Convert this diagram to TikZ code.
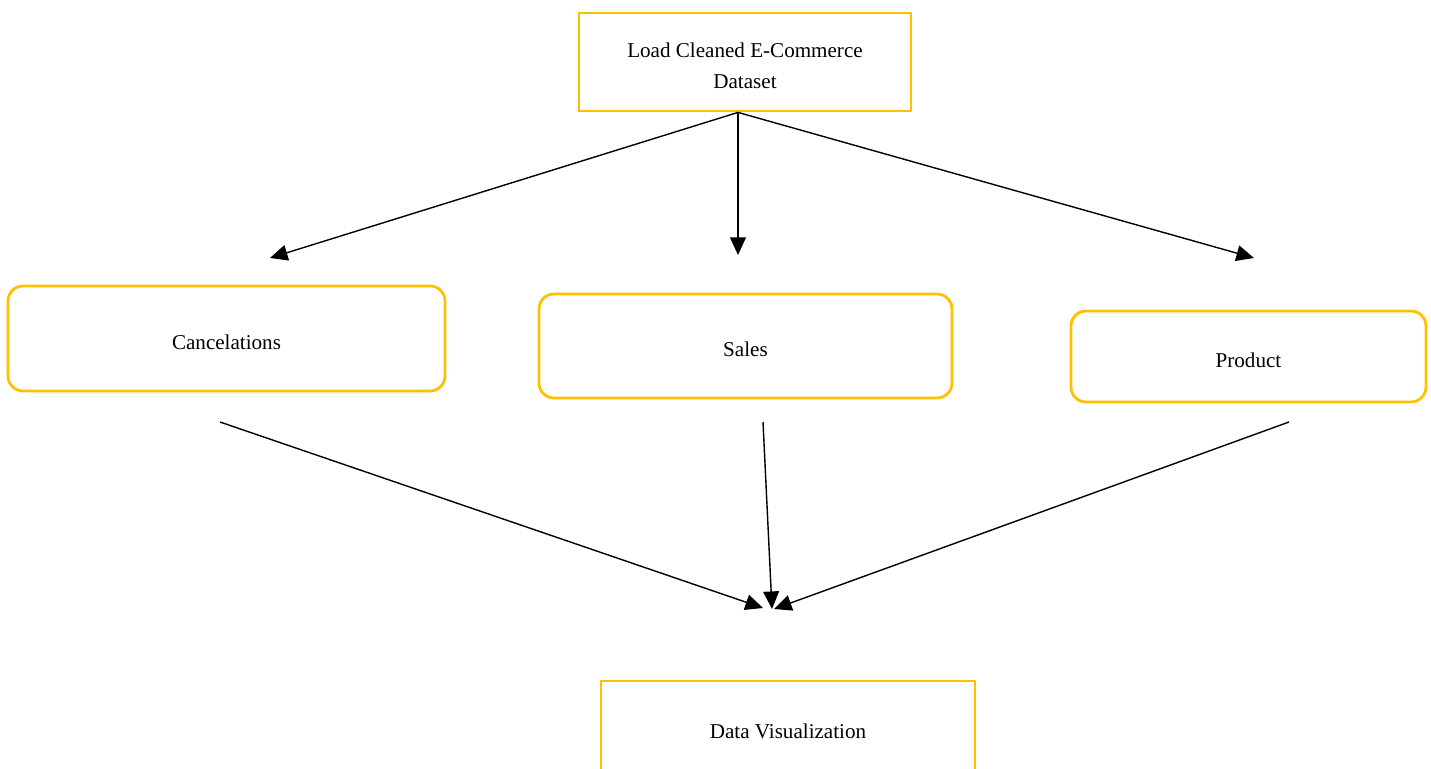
\documentclass[tikz,border=0pt]{standalone}
\usepackage{fontspec}
\setmainfont{Liberation Serif}
\usepackage{tikz}
\usetikzlibrary{positioning,arrows.meta}
\definecolor{boxgold}{HTML}{FFC000}

\begin{document}
\begin{tikzpicture}[
    font=\fontsize{12}{17.6}\selectfont,
    flatbox/.style={draw=boxgold,line width=1.6pt,inner sep=0pt,align=center},
    roundbox/.style={flatbox,rounded corners=0.3cm,text height=12pt,text depth=0pt},
    link/.style={line width=0.8pt,-{Triangle[length=10pt,width=9pt]}}
  ]
  \useasboundingbox (0,0) rectangle (28.62,-15.38);

  \node[flatbox,minimum width=6.64cm,minimum height=1.96cm,text height=30pt] at(14.9,-1.24)(load){Load Cleaned E-Commerce\\Dataset};

  \node[roundbox,minimum width=8.74cm,minimum height=2.10cm] at(4.53,-6.77)(cancel){Cancelations};
  \node[roundbox,minimum width=8.26cm,minimum height=2.08cm] at(14.91,-6.92)(sales){Sales};
  \node[roundbox,minimum width=7.10cm,minimum height=1.82cm] at(24.97,-7.13)(product){Product};

  \node[flatbox,minimum width=7.48cm,minimum height=2.0cm] at(15.76,-14.62)(viz){Data Visualization};

  % free ends of the connectors
  \coordinate[xshift=-1.4mm] (src) at (load.south);
  \coordinate (cancelIn) at (5.40,-5.16);
  \coordinate (salesIn) at (14.76,-5.10);
  \coordinate (productIn) at (25.08,-5.16);

  \coordinate (cancelOut) at (4.40,-8.44);
  \coordinate (salesOut) at (15.26,-8.44);
  \coordinate (productOut) at (25.78,-8.44);
  \coordinate (vizInA) at (15.26,-12.16);
  \coordinate (vizInB) at (15.44,-12.18);
  \coordinate (vizInC) at (15.48,-12.18);

  \draw [link](src) -- (cancelIn);
  \draw [link](src) -- (salesIn);
  \draw [link](src) -- (productIn);

  \draw [link](cancelOut) -- (vizInA);
  \draw [link](salesOut) -- (vizInB);
  \draw [link](productOut) -- (vizInC);

\end{tikzpicture}
\end{document}
